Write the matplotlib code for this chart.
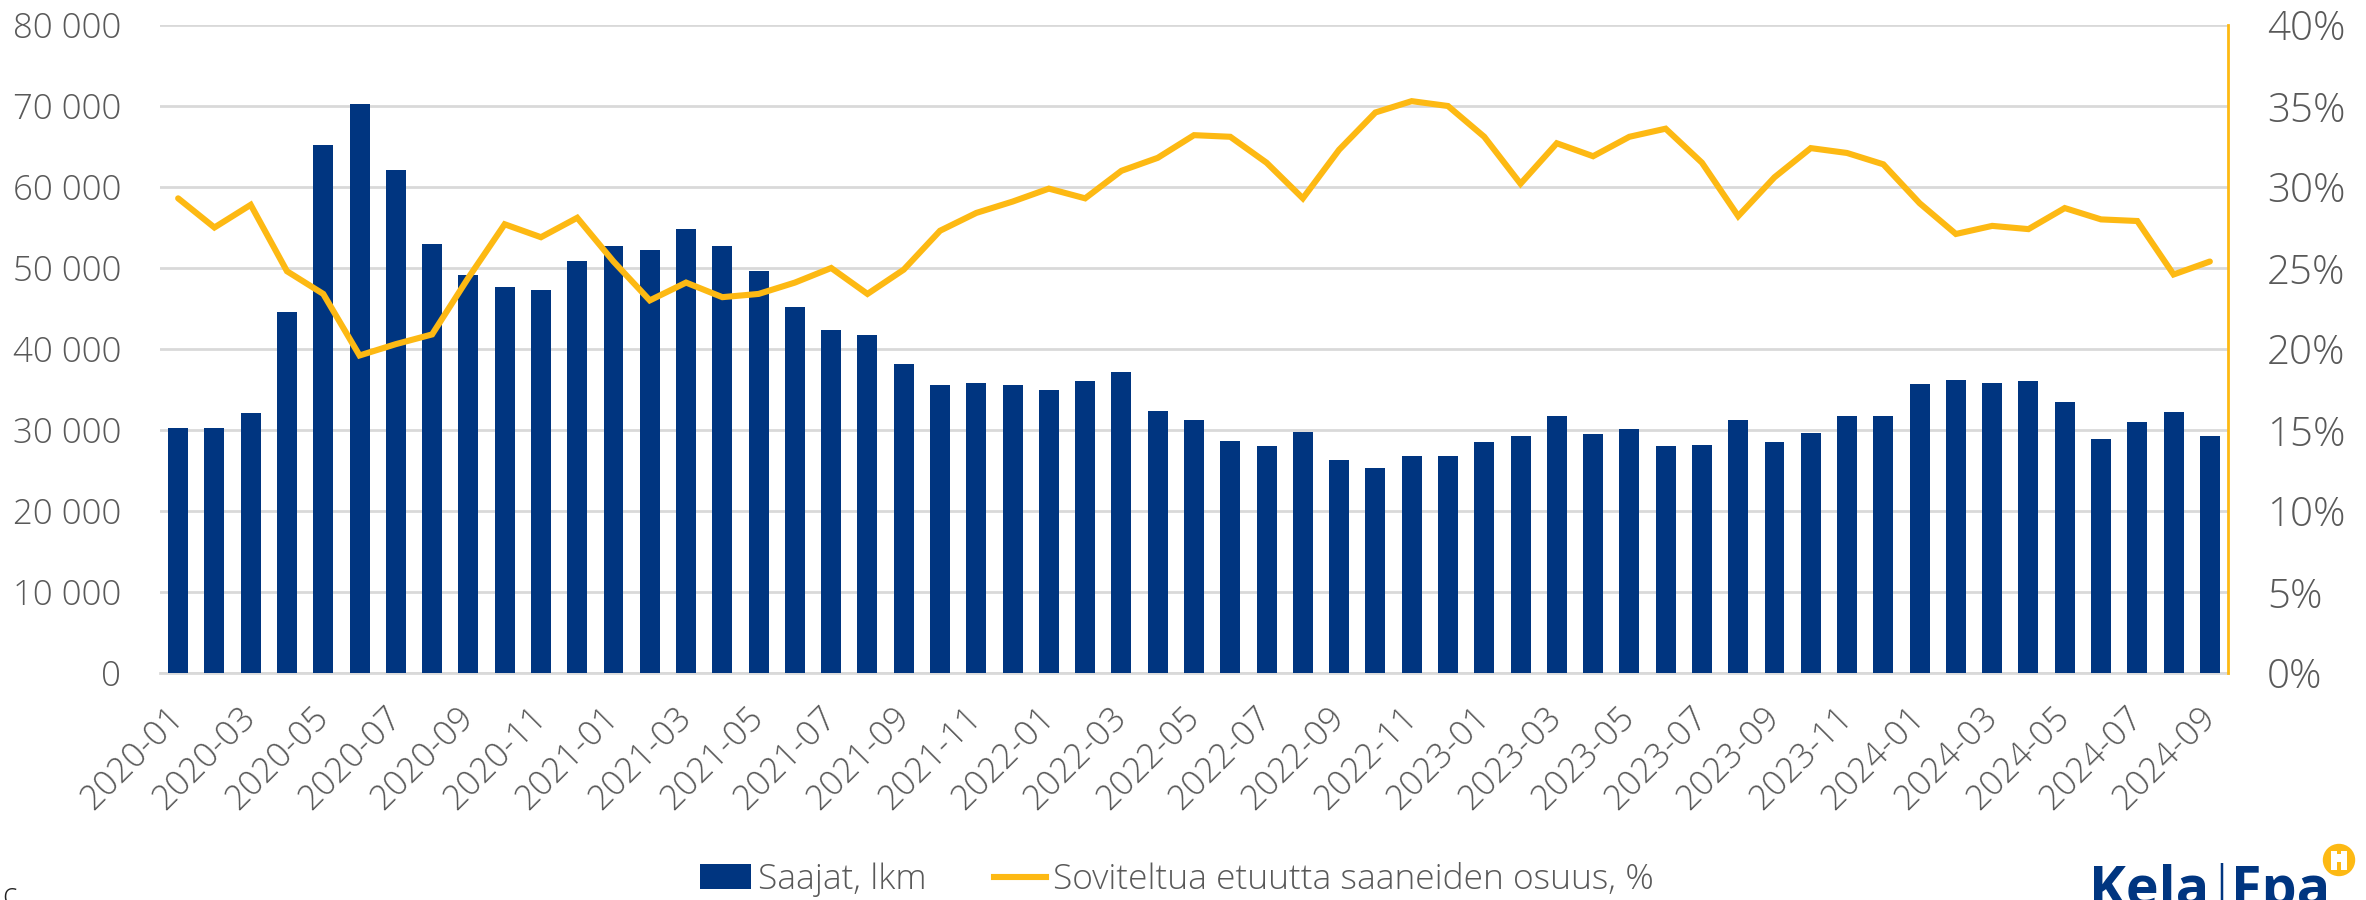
import matplotlib
matplotlib.use("Agg")
import matplotlib.pyplot as plt
from matplotlib.patches import Ellipse, Rectangle, Patch
from matplotlib.lines import Line2D
from matplotlib.ticker import FuncFormatter, MultipleLocator
from matplotlib.transforms import ScaledTranslation

years_months = [f"{y}-{m:02d}" for y in range(2020, 2025) for m in range(1, 13)][:57]
recipients = [30200, 30300, 32100, 44600, 65200, 70200, 62100, 53000, 49100, 47600, 47300, 50900,
              52700, 52200, 54800, 52700, 49600, 45200, 42300, 41700, 38200, 35500, 35800, 35600,
              34900, 36000, 37200, 32400, 31200, 28600, 28000, 29700, 26300, 25300, 26800, 26800,
              28500, 29200, 31700, 29500, 30100, 28000, 28200, 31200, 28500, 29600, 31700, 31700,
              35700, 36200, 35800, 36100, 33500, 28900, 31000, 32200, 29200]
share = [29.3, 27.5, 28.9, 24.8, 23.4, 19.6, 20.3, 20.9, 24.4, 27.7, 26.9, 28.1,
         25.4, 23.0, 24.1, 23.2, 23.4, 24.1, 25.0, 23.4, 24.9, 27.3, 28.4, 29.1,
         29.9, 29.3, 31.0, 31.8, 33.2, 33.1, 31.5, 29.3, 32.3, 34.6, 35.3, 35.0,
         33.1, 30.2, 32.7, 31.9, 33.1, 33.6, 31.5, 28.2, 30.6, 32.4, 32.1, 31.4,
         29.0, 27.1, 27.6, 27.4, 28.7, 28.0, 27.9, 24.6, 25.4]
bar_label = "Saajat, lkm"
line_label = "Soviteltua etuutta saaneiden osuus, %"

BLUE = "#003580"
YELLOW = "#FDB913"
GREY = "#595959"
W, H = 2366, 900
plt.rcParams["font.family"] = ["Open Sans", "DejaVu Sans"]
plt.rcParams["font.weight"] = 300

fig = plt.figure(figsize=(W / 100, H / 100), dpi=100, facecolor="white")
ax = fig.add_axes([160 / W, 1 - 673 / H, (2228 - 160) / W, (673 - 25) / H])
x = list(range(len(years_months)))
ax.bar(x, recipients, width=0.55, color=BLUE, zorder=3)
ax.set_xlim(-0.5, len(x) - 0.5)
ax.set_ylim(0, 80000)
ax.yaxis.set_major_locator(MultipleLocator(10000))
ax.yaxis.set_major_formatter(FuncFormatter(lambda v, _: f"{int(v):,}".replace(",", " ")))
ax.grid(axis="y", color="#D9D9D9", lw=2, zorder=0)
ax.set_axisbelow(True)
for s in ("top", "left", "right"):
    ax.spines[s].set_visible(False)
ax.spines["bottom"].set_color("#D9D9D9")
ax.spines["bottom"].set_linewidth(2)
ax.tick_params(axis="y", length=0, labelsize=25, labelcolor=GREY, pad=28)
ax.set_xticks(x[::2])
ax.set_xticklabels(years_months[::2], rotation=45, ha="right", rotation_mode="anchor",
                   fontsize=25, color=GREY)
ax.tick_params(axis="x", length=0, pad=20)
shift = ScaledTranslation(-12 / 100, 0, fig.dpi_scale_trans)
for lab in ax.get_xticklabels():
    lab.set_transform(lab.get_transform() + shift)

ax2 = ax.twinx()
ax2.plot(x, share, color=YELLOW, lw=4.4, solid_joinstyle="miter", solid_capstyle="round", zorder=5)
ax2.set_ylim(0, 40)
ax2.yaxis.set_major_locator(MultipleLocator(5))
ax2.yaxis.set_major_formatter(FuncFormatter(lambda v, _: f"{int(v)}%"))
ax2.tick_params(axis="y", length=0, labelsize=29, labelcolor=GREY, pad=28)
for s in ("top", "left", "bottom"):
    ax2.spines[s].set_visible(False)
ax2.spines["right"].set_color(YELLOW)
ax2.spines["right"].set_linewidth(2)

handles = [Patch(facecolor=BLUE, label=bar_label),
           Line2D([0], [0], color=YELLOW, lw=4.4, label=line_label)]
fig.legend(handles=handles, loc="center left", bbox_to_anchor=(700 / W, 1 - 880 / H), ncol=2,
           frameon=False, fontsize=25.5, labelcolor=GREY, handlelength=1.45, handleheight=0.7,
           handletextpad=0.2, columnspacing=1.9, borderpad=0, borderaxespad=0)

# footer logo and clipped source letter
fig.text(2 / W, 1 - 905 / H, "c", fontsize=22, color="#222222", ha="left", va="baseline")
logo = dict(fontsize=40, fontweight="bold", color=BLUE, ha="left", va="baseline")
fig.text(2089 / W, 1 - 906 / H, "Kela", **logo)
fig.text(2231 / W, 1 - 906 / H, "Fpa", **logo)
fig.text(2206 / W, 1 - 906 / H, "|", fontsize=40, fontweight=300, color=BLUE, ha="left", va="baseline")

def box(x0, y0, x1, y1, color):
    fig.add_artist(Rectangle((x0 / W, 1 - y1 / H), (x1 - x0) / W, (y1 - y0) / H,
                             transform=fig.transFigure, color=color, lw=0))
fig.add_artist(Ellipse((2339 / W, 1 - 860 / H), 31 / W, 31 / H, transform=fig.transFigure, color=YELLOW))
box(2331, 851, 2347, 870, "white")
box(2337, 851, 2341, 854, YELLOW)
box(2337, 862, 2341, 870, YELLOW)
fig.savefig("out.png", dpi=100)
